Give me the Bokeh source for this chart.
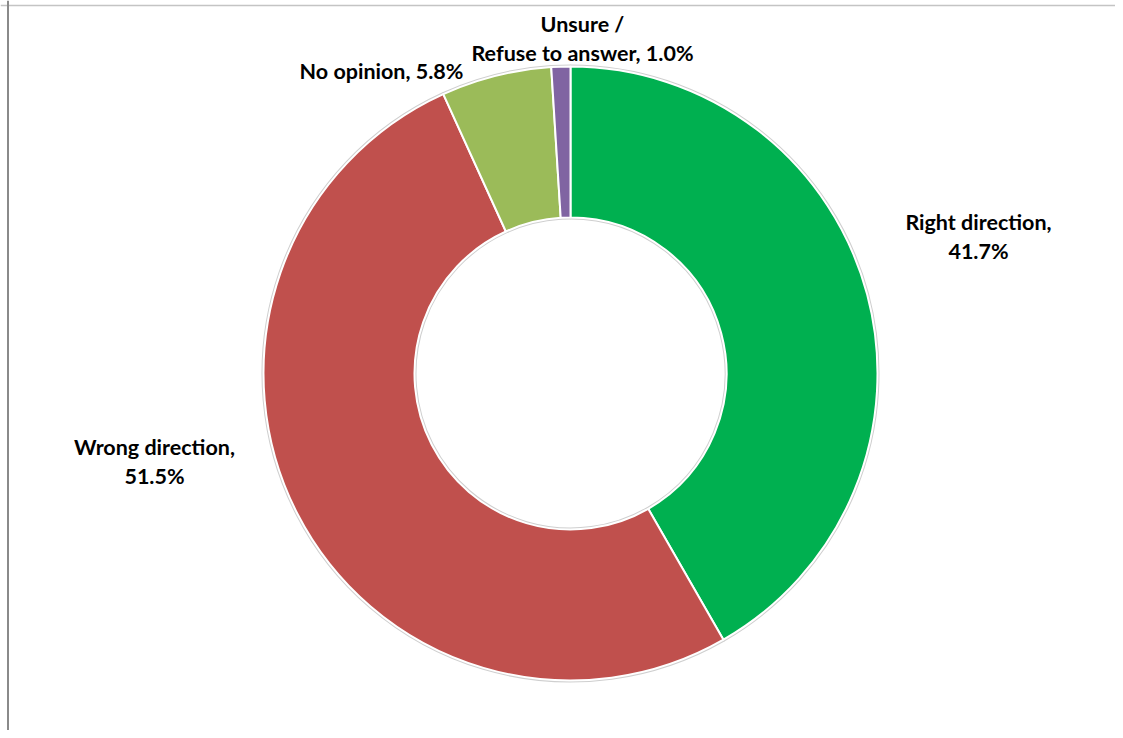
import math
from bokeh.plotting import figure
from bokeh.models import ColumnDataSource, Range1d, Span
from bokeh.core.properties import value
from bokeh.embed import file_html
from bokeh.resources import INLINE

# ---- data ----
categories = ["Right direction", "Wrong direction", "No opinion", "Unsure /\nRefuse to answer"]
values = [41.7, 51.5, 5.8, 1.0]
colors = ["#00B050", "#C0504D", "#9BBB59", "#8064A2"]
label_breaks = ["\n", "\n", " ", " "]   # separator between name and percentage

# ---- layout (figure pixels) ----
W, H = 1115, 730
cx, cy = 570, H - 373
r_out, r_in = 307, 156
label_pos = [(978, H - 236), (154, H - 461), (381, H - 70), (582, H - 38)]

total = sum(values)
starts, ends = [], []
acc = 0.0
for v in values:
    a0 = math.pi / 2 - 2 * math.pi * acc / total
    acc += v
    a1 = math.pi / 2 - 2 * math.pi * acc / total
    starts.append(a0)
    ends.append(a1)

src = ColumnDataSource(dict(cat=categories, val=values, color=colors,
                            start=starts, end=ends,
                            x=[cx] * len(values), y=[cy] * len(values)))

labels = [f"{c},{b}{v:.1f}%" for c, b, v in zip(categories, label_breaks, values)]
lsrc = ColumnDataSource(dict(x=[p[0] for p in label_pos], y=[p[1] for p in label_pos], text=labels))

p = figure(width=W, height=H, output_backend="svg", toolbar_location=None,
           x_range=Range1d(0, W), y_range=Range1d(0, H), min_border=0)
p.axis.visible = False
p.grid.visible = False
p.outline_line_color = None
p.background_fill_color = "white"
p.border_fill_color = "white"

# light shadow edges
p.annular_wedge(x="x", y="y", inner_radius=r_in, outer_radius=r_out,
                start_angle="start", end_angle="end", direction="clock",
                fill_color="color", line_color="#cfcfcf", line_width=4, source=src)
p.annular_wedge(x="x", y="y", inner_radius=r_in, outer_radius=r_out,
                start_angle="start", end_angle="end", direction="clock",
                fill_color="color", line_color="white", line_width=2, source=src)

p.text(x="x", y="y", text="text", source=lsrc, text_align="center", text_baseline="middle",
       text_font=value("Lato"), text_font_style="bold", text_font_size="21.5px",
       text_color="black", text_line_height=1.1)

# chart-area frame (top and left edges visible)
p.add_layout(Span(location=H - 5, dimension="width", line_color="#c4c4c4", line_width=1.5))
p.add_layout(Span(location=7.5, dimension="height", line_color="#8a8a8a", line_width=2))

open("out.html", "w").write(file_html(p, INLINE))
